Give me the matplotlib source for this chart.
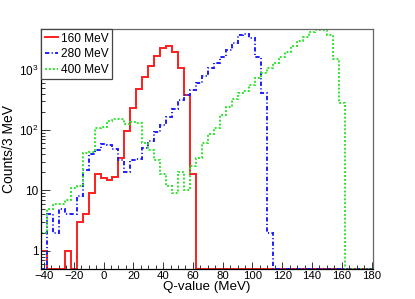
import numpy as np
import matplotlib
matplotlib.use('Agg')
import matplotlib.pyplot as plt
from matplotlib.ticker import MultipleLocator, FixedLocator, FixedFormatter, LogLocator, NullFormatter

plt.rcParams['font.family'] = ['Liberation Sans', 'DejaVu Sans']
plt.rcParams['mathtext.fontset'] = 'custom'
plt.rcParams['mathtext.rm'] = 'Liberation Sans'
plt.rcParams['mathtext.it'] = 'Liberation Sans:italic'

#----------- Data: counts per bin, bin edges from -42 MeV in 4 MeV steps -----------#
edges = np.arange(-42, 183, 4)

red_160 = [1, 0, 0, 0, 1, 0, 3, 4, 9, 19,
           16, 15, 17, 35, 95, 230, 480, 750, 1150, 1700,
           2270, 2480, 2000, 1060, 385, 19, 0, 0, 0, 0,
           0, 0, 0, 0, 0, 0, 0, 0, 0, 0,
           0, 0, 0, 0, 0, 0, 0, 0, 0, 0,
           0, 0, 0, 0, 0, 0]

blue_280 = [0, 4, 2, 5, 4, 4, 8, 22, 40, 46,
            59, 56, 48, 32, 20, 32, 33, 50, 66, 93,
            120, 165, 225, 310, 385, 470, 600, 800, 1050, 1280,
            1620, 2100, 2750, 3750, 3950, 3300, 1620, 405, 2, 0,
            0, 0, 0, 0, 0, 0, 0, 0, 0, 0,
            0, 0, 0, 0, 0, 0]

green_400 = [2, 5, 6, 6, 7, 11, 12, 42, 44, 110,
             112, 140, 152, 150, 128, 135, 133, 60, 47, 32,
             19, 12, 9, 20, 10, 25, 34, 60, 85, 110,
             180, 240, 330, 410, 450, 560, 720, 880, 1080, 1300,
             1600, 1950, 2500, 2950, 3500, 4200, 4600, 4600, 3750, 1500,
             285, 0, 0, 0, 0, 0]

labels = ['160 MeV', '280 MeV', '400 MeV']

#-----------     Plot     -----------#
fig = plt.figure(figsize=(4.15, 2.99), dpi=100)
ax = fig.add_axes([41/415, 30/299, 332/415, 240/299])

ymin, ymax = 0.5, 4730
series = [(red_160, '#ff1e1e', '-'),
          (blue_280, '#1e1eff', (0, (2.2, 1.2, 0.6, 1.2))),
          (green_400, '#2ee62e', (0, (1, 1)))]
for (vals, col, ls), lab in zip(series, labels):
    v = np.maximum(np.array(vals, dtype=float), ymin)  # empty bins sit on the frame
    ax.stairs(v, edges, baseline=None, color=col, lw=1.4, linestyle=ls, label=lab)

ax.set_yscale('log')
ax.set_xlim(-42, 181)
ax.set_ylim(ymin, ymax)

ax.xaxis.set_major_locator(MultipleLocator(20))
ax.xaxis.set_minor_locator(MultipleLocator(5))
ax.yaxis.set_major_locator(FixedLocator([1, 10, 100, 1000]))
ax.yaxis.set_major_formatter(FixedFormatter(['1', '10', r'$10^{2}$', r'$10^{3}$']))
ax.yaxis.set_minor_locator(LogLocator(base=10, subs=np.arange(2, 10)))
ax.yaxis.set_minor_formatter(NullFormatter())

ax.tick_params(which='both', direction='in', top=False, right=False,
               width=0.7, color='#333333')
ax.tick_params(axis='x', which='major', length=5, pad=1.5, labelsize=8.2)
ax.tick_params(axis='x', which='minor', length=2.8)
ax.tick_params(axis='y', which='major', length=6.5, pad=2, labelsize=8.5)
ax.tick_params(axis='y', which='minor', length=3.2)

for s in ['left', 'bottom']:
    ax.spines[s].set_linewidth(0.9)
    ax.spines[s].set_color('black')
for s in ['top', 'right']:
    ax.spines[s].set_linewidth(0.9)
    ax.spines[s].set_color('#666666')

ax.set_xlabel('Q-value (MeV)', fontsize=9.6, labelpad=0)
ax.set_ylabel('Counts/3 MeV', fontsize=10, labelpad=2)

leg = ax.legend(loc='upper left', bbox_to_anchor=(0, 1), borderaxespad=0,
                fancybox=False, framealpha=1, edgecolor='#444444', fontsize=8.6,
                handlelength=1.1, handletextpad=0.25, borderpad=0.3, labelspacing=0.3)
leg.get_frame().set_linewidth(0.9)

plt.savefig('out.png', dpi=100)
